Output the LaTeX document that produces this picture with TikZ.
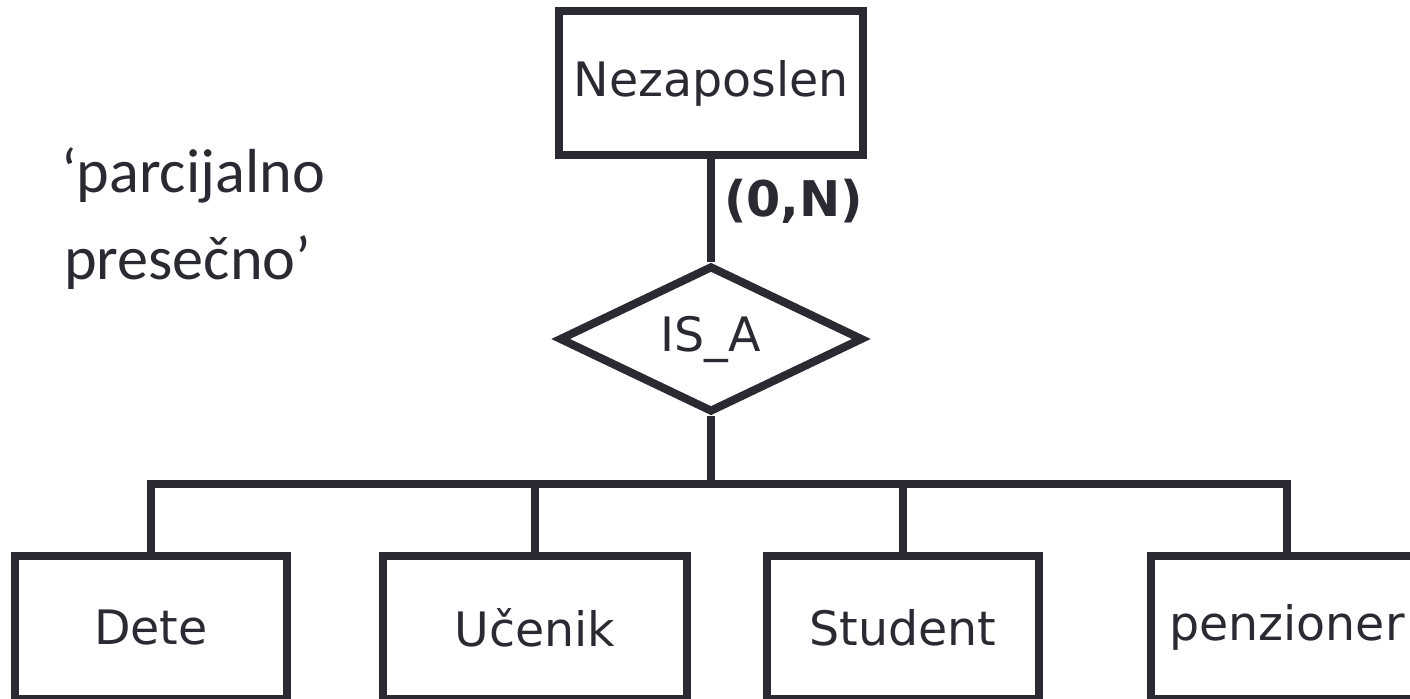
\documentclass[tikz,border=0pt]{standalone}
\usepackage{fontspec}
\setmainfont{DejaVu Sans}
\newfontfamily\notefont{Carlito}
\usetikzlibrary{shapes.geometric}
\definecolor{ink}{HTML}{2A2A33}
\begin{document}
\begin{tikzpicture}[line width=2.3pt, draw=ink, text=ink,
	entity/.style={draw, rectangle, inner sep=0pt, minimum height=1.43cm, font=\fontsize{13.5}{16}\selectfont},
	isarel/.style={draw, diamond, inner sep=0pt, minimum width=3.04cm, minimum height=1.40cm, font=\fontsize{13.5}{16}\selectfont},
	note/.style={anchor=base west, inner sep=0pt, font=\notefont\fontsize{17.7}{21}\selectfont}]
	\useasboundingbox (0,0) rectangle (14.1,-6.99);
	\clip (0,0) rectangle (14.1,-6.99);
	% superclass and IS_A
	\node[entity, minimum width=3.04cm, minimum height=1.44cm] (nez) at (7.11,-0.83) {Nezaposlen};
	\node[isarel] (isa) at (7.11,-3.39) {IS\_A};
	\draw (nez) -- (isa);
	\node[anchor=base west, inner sep=0pt, font=\bfseries\fontsize{14}{16}\selectfont] (card) at (7.20,-2.17) {(0,N)};
	% subclasses
	\node[entity, minimum width=2.72cm] (dete) at (1.51,-6.275) {Dete};
	\node[entity, minimum width=3.04cm] (ucen) at (5.35,-6.275) {Učenik};
	\node[entity, minimum width=2.72cm] (stud) at (9.03,-6.275) {Student};
	\node[entity, minimum width=2.72cm] (penz) at (12.87,-6.275) {penzioner};
	\coordinate (bar) at (7.11,-4.84);
	\draw (isa.south) -- (bar);
	\draw (dete.north) |- (penz.north |- bar) -- (penz.north);
	\draw (ucen.north) -- (ucen.north |- bar);
	\draw (stud.north) -- (stud.north |- bar);
	% kind of specialization
	\node[note] (parc) at (0.57,-1.93) {‘parcijalno};
	\node[note] (pres) at (0.60,-2.80) {presečno’};
\end{tikzpicture}
\end{document}
